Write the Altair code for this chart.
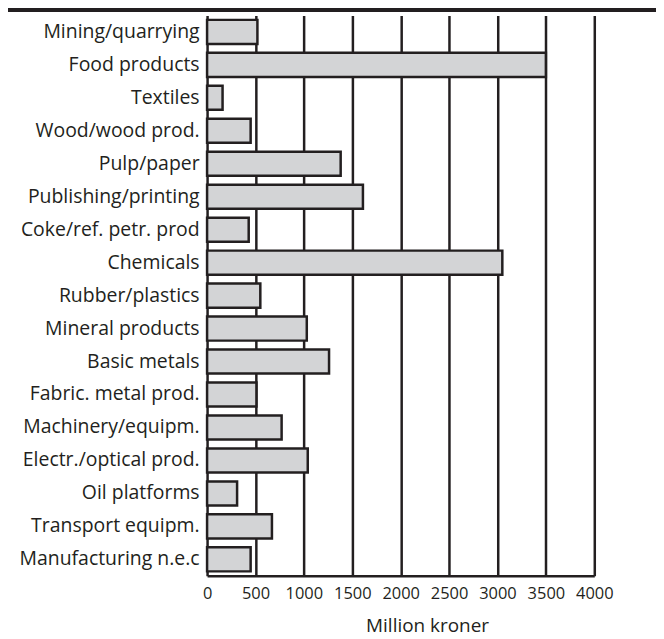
import altair as alt
import pandas as pd

categories = [
    "Mining/quarrying", "Food products", "Textiles", "Wood/wood prod.",
    "Pulp/paper", "Publishing/printing", "Coke/ref. petr. prod", "Chemicals",
    "Rubber/plastics", "Mineral products", "Basic metals", "Fabric. metal prod.",
    "Machinery/equipm.", "Electr./optical prod.", "Oil platforms",
    "Transport equipm.", "Manufacturing n.e.c",
]
values = [520, 3500, 160, 450, 1380, 1610, 430, 3050, 550, 1030, 1260,
          510, 770, 1040, 310, 670, 450]
x_ticks = [0, 500, 1000, 1500, 2000, 2500, 3000, 3500, 4000]

df = pd.DataFrame({"cat": categories, "val": values})
FONT = "Open Sans"
DARK = "#231f20"

y_enc = alt.Y("cat:N", sort=categories, title=None,
              scale=alt.Scale(paddingInner=0.27, paddingOuter=0.135),
              axis=alt.Axis(labelFont=FONT, labelFontSize=19.5, labelColor=DARK,
                            labelPadding=8, ticks=False, domain=False, grid=False,
                            labelLimit=300))
x_enc = alt.X("val:Q", title="Million kroner",
              scale=alt.Scale(domain=[0, 4000], nice=False),
              axis=alt.Axis(values=x_ticks, format="d", labelOverlap=False,
                            labelFlush=False,
                            labelFont=FONT, labelFontSize=16.5,
                            labelColor=DARK, ticks=False, labelPadding=10,
                            domainColor=DARK, domainWidth=2.5,
                            grid=True, gridColor=DARK, gridWidth=2.5, gridOpacity=1,
                            titleFont=FONT, titleFontSize=19, titleFontWeight="normal",
                            titleColor=DARK, titlePadding=14,
                            titleX=221, titleAlign="center"))

bars = alt.Chart(df).mark_bar(fill="#d3d4d6", stroke=DARK, strokeWidth=2.5).encode(
    x=x_enc, y=y_enc
)

top_rule = alt.Chart(df).mark_rule(color=DARK, strokeWidth=3, clip=False).encode(
    x=alt.value(-201), x2=alt.value(460), y=alt.value(-5.5)
)

chart = alt.layer(bars, top_rule).properties(
    width=389, height=563,
    autosize=alt.AutoSizeParams(type="none"),
    padding={"left": 200, "top": 6, "right": 62, "bottom": 60},
).configure_view(stroke=None)

chart.save("out.html", embed_options={"renderer": "svg", "actions": False})
